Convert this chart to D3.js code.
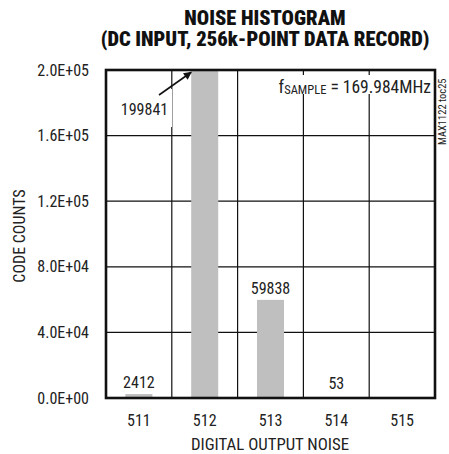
<!DOCTYPE html>
<html>
<head>
<meta charset="utf-8">
<script src="https://cdn.jsdelivr.net/npm/d3@7"></script>
<style>
  body { margin: 0; background: #fff; }
  text { font-family: Roboto, sans-serif; font-stretch: condensed; fill: #222; }
</style>
</head>
<body>
<div id="chart"></div>
<script>
// data
var codes = ["511", "512", "513", "514", "515"];
var counts = [2412, 199841, 59838, 53, 0];
var countLabels = ["2412", "", "59838", "53", ""];
var yTicks = [0, 40000, 80000, 120000, 160000, 200000];

var W = 449, H = 454;
var margin = { top: 70, right: 14, bottom: 56, left: 106 };
var width = W - margin.left - margin.right;
var height = H - margin.top - margin.bottom;

var svg = d3.select("#chart").append("svg")
    .attr("width", W)
    .attr("height", H);

// arrow marker
svg.append("defs").append("marker")
    .attr("id", "arrow")
    .attr("viewBox", "0 0 10 10")
    .attr("refX", 9).attr("refY", 5)
    .attr("markerWidth", 11).attr("markerHeight", 8)
    .attr("markerUnits", "userSpaceOnUse")
    .attr("orient", "auto")
  .append("path")
    .attr("d", "M0,0 L10,5 L0,10 z")
    .attr("fill", "#111");

// title
var title = svg.append("text")
    .attr("text-anchor", "middle")
    .style("font-weight", "900")
    .style("font-size", "20.5px")
    .style("fill", "#111");
title.append("tspan").attr("x", 265).attr("y", 25).text("NOISE HISTOGRAM");
title.append("tspan").attr("x", 265).attr("y", 46).text("(DC INPUT, 256k-POINT DATA RECORD)");

var g = svg.append("g")
    .attr("transform", "translate(" + margin.left + "," + margin.top + ")");

var x = d3.scaleBand().domain(codes).range([0, width]).padding(0);
var y = d3.scaleLinear().domain([0, 200000]).range([height, 0]);

function sci(v) {
    // 2.0E+05 style
    var s = v.toExponential(1).split("e");
    var e = +s[1];
    return s[0] + "E" + (e < 0 ? "-" : "+") + (Math.abs(e) < 10 ? "0" : "") + Math.abs(e);
}

// grid lines
g.append("g").selectAll("line.h")
    .data(yTicks.slice(1, -1))
    .enter().append("line")
    .attr("x1", 0).attr("x2", width)
    .attr("y1", function(d) { return y(d); })
    .attr("y2", function(d) { return y(d); })
    .attr("stroke", "#111").attr("stroke-width", 1.2);

g.append("g").selectAll("line.v")
    .data(codes.slice(1))
    .enter().append("line")
    .attr("x1", function(d) { return x(d); })
    .attr("x2", function(d) { return x(d); })
    .attr("y1", 0).attr("y2", height)
    .attr("stroke", "#111").attr("stroke-width", 1.2);

// bars
var barW = 27;
g.append("g").selectAll("rect")
    .data(codes)
    .enter().append("rect")
    .attr("x", function(d) { return x(d) + x.bandwidth() / 2 - barW / 2; })
    .attr("width", barW)
    .attr("y", function(d, i) { return y(counts[i]); })
    .attr("height", function(d, i) { return height - y(counts[i]); })
    .attr("fill", "#bfbfbf");

// frame
g.append("rect")
    .attr("width", width).attr("height", height)
    .attr("fill", "none")
    .attr("stroke", "#111").attr("stroke-width", 2.6);

// bar value labels
g.append("g").selectAll("text")
    .data(codes)
    .enter().append("text")
    .attr("x", function(d) { return x(d) + x.bandwidth() / 2; })
    .attr("y", function(d, i) { return Math.min(y(counts[i]) - 6, height - 9); })
    .attr("text-anchor", "middle")
    .style("font-size", "16px")
    .text(function(d, i) { return countLabels[i]; });

// peak label with white backing, and arrow to top of the 512 bar
var peakX = x("512") + x.bandwidth() / 2 - barW / 2;
g.append("rect")
    .attr("x", 14).attr("y", 19)
    .attr("width", 52).attr("height", 38)
    .attr("fill", "#fff");
g.append("text")
    .attr("x", 38.5).attr("y", 45)
    .attr("text-anchor", "middle")
    .style("font-size", "16px")
    .text(d3.format("d")(counts[1]));
g.append("line")
    .attr("x1", 53).attr("y1", 25)
    .attr("x2", peakX).attr("y2", y(counts[1]) + 2)
    .attr("stroke", "#111").attr("stroke-width", 1.6)
    .attr("marker-end", "url(#arrow)");

// fSAMPLE note
g.append("rect")
    .attr("x", 164).attr("y", 5)
    .attr("width", 162).attr("height", 19)
    .attr("fill", "#fff");
var fs = g.append("text")
    .attr("x", 325).attr("y", 22.7)
    .attr("text-anchor", "end")
    .style("font-size", "17.5px");
fs.append("tspan").text("f");
fs.append("tspan").attr("dy", 1.5).style("font-size", "12.5px").text("SAMPLE");
fs.append("tspan").attr("dy", -1.5).text(" = 169.984MHz");

// y axis
var yAxis = g.append("g")
    .call(d3.axisLeft(y).tickValues(yTicks).tickFormat(sci).tickSize(0).tickPadding(17));
yAxis.select(".domain").remove();
yAxis.selectAll("text")
    .attr("fill", "#222")
    .style("font-size", "16px")
    .style("font-family", "Roboto, sans-serif");

// x axis
var xAxis = g.append("g")
    .attr("transform", "translate(0," + height + ")")
    .call(d3.axisBottom(x).tickSize(0).tickPadding(17));
xAxis.select(".domain").remove();
xAxis.selectAll("text")
    .attr("fill", "#222")
    .style("font-size", "16px")
    .style("font-family", "Roboto, sans-serif");

// axis titles
svg.append("text")
    .attr("transform", "translate(25,236) rotate(-90)")
    .attr("text-anchor", "middle")
    .style("font-size", "16px")
    .text("CODE COUNTS");

svg.append("text")
    .attr("x", 270).attr("y", 450)
    .attr("text-anchor", "middle")
    .style("font-size", "16.8px")
    .text("DIGITAL OUTPUT NOISE");

// side note
svg.append("text")
    .attr("transform", "translate(446,145) rotate(-90)")
    .style("font-size", "10.5px")
    .text("MAX1122 toc25");
</script>
</body>
</html>
